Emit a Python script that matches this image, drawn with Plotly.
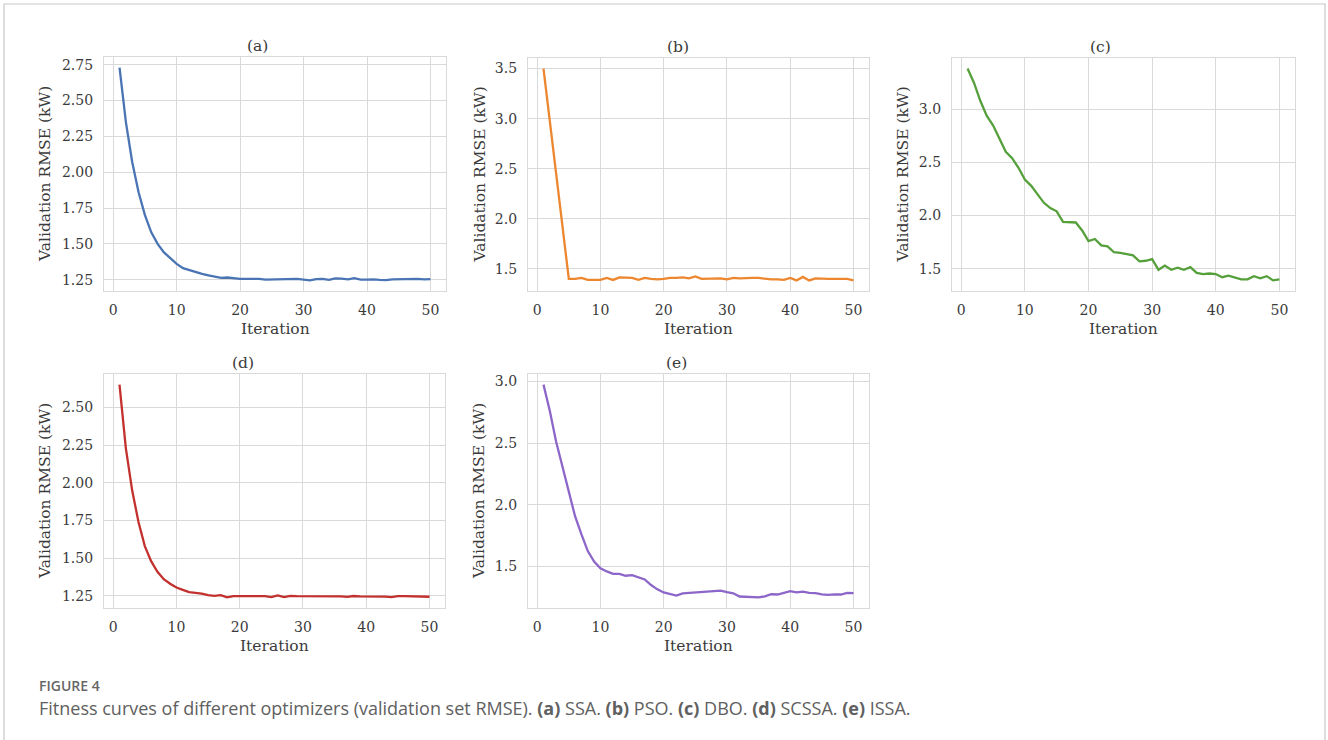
import plotly.graph_objects as go

W, H = 1328, 740

iterations = list(range(1, 51))

ssa = [2.73, 2.35, 2.07, 1.86, 1.70, 1.58, 1.50, 1.44, 1.40, 1.36,
       1.33, 1.315, 1.30, 1.29, 1.28, 1.27, 1.262, 1.265, 1.258, 1.255,
       1.255, 1.255, 1.256, 1.25, 1.252, 1.252, 1.253, 1.253, 1.255, 1.25,
       1.245, 1.253, 1.256, 1.248, 1.258, 1.257, 1.252, 1.26, 1.25, 1.25,
       1.252, 1.248, 1.246, 1.252, 1.253, 1.253, 1.257, 1.255, 1.252, 1.253]

pso = [3.50, 2.975, 2.45, 1.925, 1.40, 1.40, 1.41, 1.39, 1.39, 1.39,
       1.41, 1.39, 1.415, 1.41, 1.41, 1.39, 1.41, 1.40, 1.395, 1.40,
       1.41, 1.41, 1.415, 1.405, 1.425, 1.40, 1.40, 1.405, 1.405, 1.395,
       1.41, 1.405, 1.41, 1.41, 1.41, 1.40, 1.395, 1.395, 1.39, 1.41,
       1.385, 1.42, 1.385, 1.405, 1.40, 1.40, 1.40, 1.40, 1.40, 1.385]

dbo = [3.383, 3.25, 3.08, 2.94, 2.85, 2.72, 2.60, 2.54, 2.45, 2.34,
       2.28, 2.20, 2.12, 2.07, 2.04, 1.94, 1.94, 1.935, 1.86, 1.76,
       1.78, 1.72, 1.71, 1.655, 1.65, 1.64, 1.625, 1.57, 1.575, 1.59,
       1.49, 1.53, 1.49, 1.51, 1.49, 1.515, 1.46, 1.45, 1.455, 1.45,
       1.42, 1.435, 1.42, 1.40, 1.40, 1.43, 1.41, 1.43, 1.39, 1.40]

scssa = [2.651, 2.23, 1.95, 1.74, 1.58, 1.48, 1.41, 1.36, 1.33, 1.305,
         1.29, 1.275, 1.27, 1.265, 1.255, 1.25, 1.255, 1.24, 1.248, 1.248,
         1.243, 1.248, 1.248, 1.248, 1.242, 1.253, 1.242, 1.25, 1.248, 1.248,
         1.248, 1.248, 1.248, 1.25, 1.246, 1.246, 1.243, 1.249, 1.247, 1.247,
         1.247, 1.249, 1.245, 1.241, 1.248, 1.248, 1.247, 1.247, 1.249, 1.244]

issa = [2.973, 2.76, 2.51, 2.30, 2.11, 1.905, 1.76, 1.625, 1.54, 1.486,
        1.46, 1.44, 1.44, 1.425, 1.43, 1.41, 1.395, 1.35, 1.315, 1.29,
        1.28, 1.265, 1.283, 1.287, 1.29, 1.297, 1.30, 1.302, 1.305, 1.292,
        1.283, 1.257, 1.255, 1.257, 1.25, 1.258, 1.275, 1.273, 1.285, 1.30,
        1.29, 1.297, 1.287, 1.285, 1.275, 1.27, 1.275, 1.273, 1.287, 1.285]

panel_labels = ["(a)", "(b)", "(c)", "(d)", "(e)"]
series = [ssa, pso, dbo, scssa, issa]
colors = ["#4a74b4", "#ec8730", "#56a03c", "#c3312f", "#8c66c8"]
ytick_vals = [
    [1.25, 1.50, 1.75, 2.00, 2.25, 2.50, 2.75],
    [1.5, 2.0, 2.5, 3.0, 3.5],
    [1.5, 2.0, 2.5, 3.0],
    [1.25, 1.50, 1.75, 2.00, 2.25, 2.50],
    [1.5, 2.0, 2.5, 3.0],
]
ytick_fmt = [".2f", ".1f", ".1f", ".2f", ".1f"]
xtick_vals = [0, 10, 20, 30, 40, 50]
y_title = "Validation RMSE (kW)"
x_title = "Iteration"
caption_head = "FIGURE 4"
caption_text = ("Fitness curves of different optimizers (validation set RMSE). "
                "<b>(a)</b> SSA. <b>(b)</b> PSO. <b>(c)</b> DBO. "
                "<b>(d)</b> SCSSA. <b>(e)</b> ISSA.")

# layout (pixels): plot-area boxes (left, right, top, bottom), title x, y-title x
boxes = [(104, 446, 57, 291), (528, 869, 58, 291), (952, 1295, 58, 291),
         (104, 445, 374, 608), (528, 869, 374, 608)]
title_x = [257, 678, 1100, 243, 676]
ytitle_x = [45, 480, 903, 45, 479]

SERIF = "DejaVu Serif"
TXT = "#3a3a3a"
GRID = "#d9d9d9"

fig = go.Figure()
annotations = []
for i, (vals, col, lab, box) in enumerate(zip(series, colors, panel_labels, boxes)):
    n = "" if i == 0 else str(i + 1)
    L, R, T, B = box
    fig.add_trace(go.Scatter(x=iterations, y=vals, mode="lines",
                             line=dict(color=col, width=2.3),
                             xaxis="x" + n, yaxis="y" + n, showlegend=False))
    xmin, xmax = min(iterations), max(iterations)
    xs = xmax - xmin
    ymin, ymax = min(vals), max(vals)
    ys = ymax - ymin
    fig.layout["xaxis" + n] = dict(
        domain=[L / W, R / W], anchor="y" + n,
        range=[xmin - 0.05 * xs, xmax + 0.05 * xs],
        tickvals=xtick_vals, showgrid=True, gridcolor=GRID, gridwidth=1.3,
        zeroline=False, showline=True, mirror=True, linecolor=GRID, linewidth=1.3,
        ticks="outside", ticklen=6, tickcolor="rgba(0,0,0,0)",
        tickfont=dict(family=SERIF, size=14, color=TXT))
    fig.layout["yaxis" + n] = dict(
        domain=[1 - B / H, 1 - T / H], anchor="x" + n,
        range=[ymin - 0.05 * ys, ymax + 0.05 * ys],
        tickvals=ytick_vals[i], tickformat=ytick_fmt[i],
        showgrid=True, gridcolor=GRID, gridwidth=1.3,
        zeroline=False, showline=True, mirror=True, linecolor=GRID, linewidth=1.3,
        ticks="outside", ticklen=7, tickcolor="rgba(0,0,0,0)",
        tickfont=dict(family=SERIF, size=14, color=TXT))
    cx = (L + R) / 2 / W
    annotations.append(dict(text=lab, x=title_x[i] / W, y=1 - (T - 11) / H,
                            xref="paper", yref="paper",
                            showarrow=False, font=dict(family=SERIF, size=15.5, color=TXT),
                            xanchor="center", yanchor="middle"))
    annotations.append(dict(text=x_title, x=cx, y=1 - (B + 38) / H, xref="paper", yref="paper",
                            showarrow=False, font=dict(family=SERIF, size=15.5, color=TXT),
                            xanchor="center", yanchor="middle"))
    annotations.append(dict(text=y_title, x=ytitle_x[i] / W, y=1 - (T + B) / 2 / H,
                            xref="paper", yref="paper", textangle=-90,
                            showarrow=False, font=dict(family=SERIF, size=15.5, color=TXT),
                            xanchor="center", yanchor="middle"))

annotations.append(dict(text=caption_head, x=37 / W, y=1 - 685 / H, xref="paper", yref="paper",
                        showarrow=False, xanchor="left", yanchor="middle",
                        font=dict(family="Open Sans", size=14, color="#666666", weight=600)))
annotations.append(dict(text=caption_text, x=37 / W, y=1 - 708 / H, xref="paper", yref="paper",
                        showarrow=False, xanchor="left", yanchor="middle",
                        font=dict(family="Open Sans", size=18, color="#606060")))

fig.update_layout(
    width=W, height=H, margin=dict(l=0, r=0, t=0, b=0),
    paper_bgcolor="white", plot_bgcolor="white",
    annotations=annotations,
    shapes=[dict(type="rect", xref="paper", yref="paper",
                 x0=4 / W, x1=1325 / W, y0=-0.05, y1=1 - 4 / H,
                 line=dict(color="#c8c8c8", width=1.2), fillcolor="rgba(0,0,0,0)")],
)

fig.write_html("out.html")
